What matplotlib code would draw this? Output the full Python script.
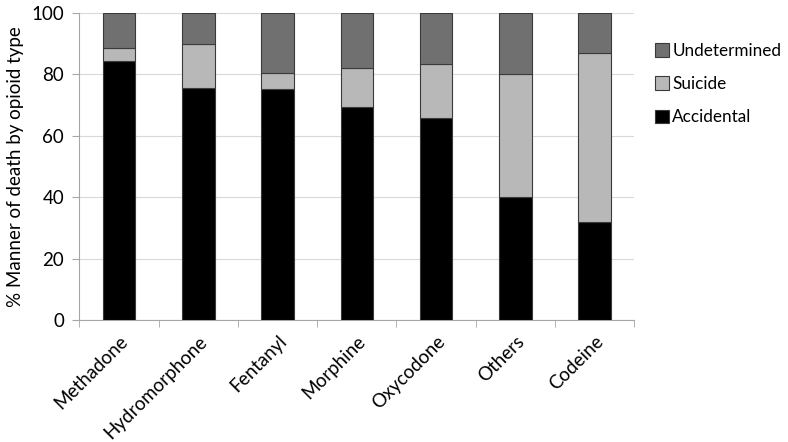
import numpy as np
import matplotlib
matplotlib.use("Agg")
import matplotlib.pyplot as plt

plt.rcParams['font.family'] = ['Lato', 'DejaVu Sans']

opioids = ["Methadone", "Hydromorphone", "Fentanyl", "Morphine", "Oxycodone", "Others", "Codeine"]
accidental = [84.5, 75.7, 75.1, 69.5, 65.7, 40.0, 32.0]
suicide = [4.0, 14.1, 5.4, 12.5, 17.6, 40.0, 54.9]
undetermined = [100 - a - s for a, s in zip(accidental, suicide)]

fig = plt.figure(figsize=(7.88, 4.42), dpi=100)
ax = fig.add_axes([0.1008, 0.276, 0.704, 0.6946])

x = np.arange(len(opioids))
w = 0.41
ec = "#3a3a3a"
ax.bar(x, accidental, w, color="black", edgecolor=ec, lw=0.8, label="Accidental", zorder=3)
ax.bar(x, suicide, w, bottom=accidental, color="#b8b8b8", edgecolor=ec, lw=0.8, label="Suicide", zorder=3)
bot2 = [a + s for a, s in zip(accidental, suicide)]
ax.bar(x, undetermined, w, bottom=bot2, color="#707070", edgecolor=ec, lw=0.8, label="Undetermined", zorder=3)

ax.set_xlim(-0.5, len(opioids) - 0.5)
ax.set_ylim(0, 100)
ax.set_yticks(range(0, 101, 20))
ax.yaxis.grid(True, color="#d9d9d9", lw=0.8, zorder=0)
for s in ["top", "right"]:
    ax.spines[s].set_visible(False)
for s in ["left", "bottom"]:
    ax.spines[s].set_color("#a6a6a6")
ax.tick_params(axis="y", length=5, color="#a6a6a6", labelsize=13.5, pad=6)

ax.set_xticks(x)
ax.set_xticklabels(opioids, rotation=45, ha="right", rotation_mode="anchor", fontsize=13.5)
ax.tick_params(axis="x", which="major", length=0, pad=9)
ax.set_xticks(np.arange(-0.5, len(opioids)), minor=True)
ax.tick_params(axis="x", which="minor", length=5, color="#a6a6a6")

ax.set_ylabel("% Manner of death by opioid type", fontsize=13.5, labelpad=5)

h, l = ax.get_legend_handles_labels()
fig.legend(h[::-1], l[::-1], loc="center left", bbox_to_anchor=(646 / 788, 1 - 84 / 442), frameon=False,
           borderpad=0, fontsize=12.3, handlelength=0.82, handleheight=0.82, handletextpad=0.22,
           labelspacing=1.0)

fig.savefig("out.png", dpi=100)
